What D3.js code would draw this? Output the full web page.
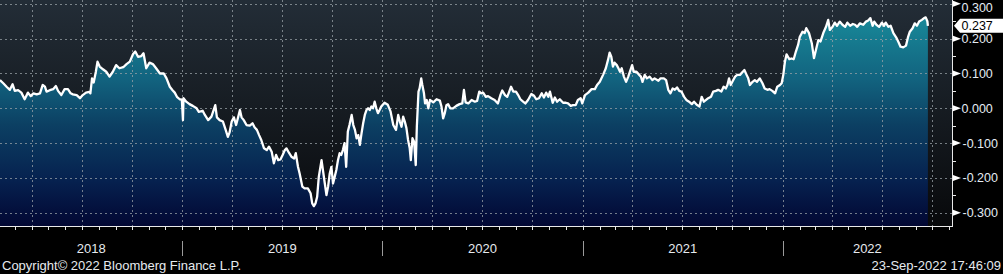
<!DOCTYPE html>
<html>
<head>
<meta charset="utf-8">
<script src="https://d3js.org/d3.v7.min.js"></script>
<style>
  html, body { margin: 0; padding: 0; background: #000; }
  svg { display: block; }
  text { font-family: "Liberation Sans", Arial, sans-serif; }
</style>
</head>
<body>
<script>
// series, one array per year: [date, value]
var d2018 = [
  ["2018-02-02",0.081],["2018-02-08",0.072],["2018-02-14",0.062],["2018-02-20",0.053],["2018-02-25",0.069],
  ["2018-03-01",0.050],["2018-03-07",0.052],["2018-03-13",0.045],["2018-03-19",0.026],["2018-03-25",0.045],
  ["2018-03-30",0.035],["2018-04-04",0.043],["2018-04-10",0.040],["2018-04-16",0.043],["2018-04-21",0.067],
  ["2018-04-25",0.062],["2018-04-28",0.048],["2018-05-04",0.052],["2018-05-10",0.055],["2018-05-15",0.064],
  ["2018-05-19",0.050],["2018-05-25",0.038],["2018-05-31",0.055],["2018-06-06",0.055],["2018-06-11",0.043],
  ["2018-06-15",0.040],["2018-06-22",0.038],["2018-06-28",0.029],["2018-07-03",0.038],["2018-07-09",0.045],
  ["2018-07-15",0.047],["2018-07-17",0.043],["2018-07-20",0.086],["2018-07-23",0.074],["2018-07-27",0.105],
  ["2018-07-30",0.134],["2018-08-03",0.120],["2018-08-09",0.112],["2018-08-15",0.105],["2018-08-21",0.091],
  ["2018-08-27",0.105],["2018-09-02",0.124],["2018-09-08",0.115],["2018-09-15",0.118],["2018-09-21",0.127],
  ["2018-09-27",0.134],["2018-10-03",0.156],["2018-10-07",0.163],["2018-10-12",0.148],["2018-10-18",0.150],
  ["2018-10-22",0.158],["2018-10-27",0.115],["2018-11-02",0.131],["2018-11-08",0.127],["2018-11-14",0.115],
  ["2018-11-21",0.100],["2018-11-28",0.100],["2018-12-03",0.086],["2018-12-09",0.062],["2018-12-14",0.052],
  ["2018-12-18",0.045],["2018-12-22",0.033],["2018-12-27",0.026],["2018-12-31",0.025]
];
var d2019 = [
  ["2019-01-02",-0.034],["2019-01-03",0.029],["2019-01-08",0.019],["2019-01-14",0.012],["2019-01-20",0.007],
  ["2019-01-27",0.000],["2019-01-31",-0.010],["2019-02-07",-0.007],["2019-02-11",-0.019],["2019-02-17",-0.034],
  ["2019-02-23",-0.024],["2019-02-27",-0.005],["2019-03-02",0.009],["2019-03-05",-0.026],["2019-03-10",-0.034],
  ["2019-03-16",-0.038],["2019-03-21",-0.062],["2019-03-25",-0.082],["2019-03-28",-0.070],["2019-04-01",-0.038],
  ["2019-04-05",-0.026],["2019-04-09",-0.048],["2019-04-13",-0.024],["2019-04-16",-0.005],["2019-04-19",-0.026],
  ["2019-04-23",-0.034],["2019-04-28",-0.048],["2019-05-04",-0.050],["2019-05-09",-0.043],["2019-05-13",-0.055],
  ["2019-05-17",-0.062],["2019-05-21",-0.077],["2019-05-25",-0.091],["2019-05-30",-0.115],["2019-06-04",-0.120],
  ["2019-06-08",-0.110],["2019-06-13",-0.125],["2019-06-17",-0.158],["2019-06-21",-0.134],["2019-06-25",-0.149],
  ["2019-06-29",-0.147],["2019-07-03",-0.134],["2019-07-07",-0.120],["2019-07-10",-0.115],["2019-07-15",-0.129],
  ["2019-07-19",-0.139],["2019-07-24",-0.144],["2019-07-27",-0.129],["2019-07-31",-0.168],["2019-08-03",-0.187],
  ["2019-08-08",-0.225],["2019-08-12",-0.230],["2019-08-18",-0.230],["2019-08-23",-0.244],["2019-08-26",-0.273],
  ["2019-08-29",-0.281],["2019-09-01",-0.273],["2019-09-04",-0.254],["2019-09-07",-0.197],["2019-09-12",-0.149],
  ["2019-09-18",-0.216],["2019-09-21",-0.249],["2019-09-24",-0.225],["2019-09-27",-0.187],["2019-09-30",-0.168],
  ["2019-10-03",-0.216],["2019-10-06",-0.197],["2019-10-09",-0.177],["2019-10-12",-0.149],["2019-10-15",-0.129],
  ["2019-10-18",-0.134],["2019-10-21",-0.120],["2019-10-24",-0.100],["2019-10-27",-0.168],["2019-10-30",-0.067],
  ["2019-11-02",-0.048],["2019-11-06",-0.019],["2019-11-09",-0.048],["2019-11-12",-0.062],["2019-11-15",-0.086],
  ["2019-11-18",-0.077],["2019-11-21",-0.105],["2019-11-24",-0.072],["2019-11-27",-0.043],["2019-11-30",-0.019],
  ["2019-12-03",-0.005],["2019-12-06",0.000],["2019-12-09",-0.005],["2019-12-12",0.005],["2019-12-15",0.000],
  ["2019-12-18",0.019],["2019-12-21",0.000],["2019-12-24",-0.014],["2019-12-27",-0.005],["2019-12-30",0.005]
];
var d2020 = [
  ["2020-01-05",0.016],["2020-01-11",0.010],["2020-01-16",-0.009],["2020-01-21",-0.048],["2020-01-26",-0.062],
  ["2020-01-30",-0.019],["2020-02-02",-0.038],["2020-02-05",-0.053],["2020-02-08",-0.024],["2020-02-11",-0.038],
  ["2020-02-14",-0.057],["2020-02-17",-0.091],["2020-02-20",-0.115],["2020-02-22",-0.149],["2020-02-25",-0.086],
  ["2020-02-28",-0.096],["2020-03-02",-0.163],["2020-03-04",-0.053],["2020-03-07",0.048],["2020-03-09",0.057],
  ["2020-03-12",0.086],["2020-03-14",0.067],["2020-03-17",0.043],["2020-03-19",0.014],["2020-03-22",0.024],
  ["2020-03-25",0.000],["2020-03-28",0.024],["2020-04-03",0.017],["2020-04-09",0.026],["2020-04-15",0.022],
  ["2020-04-18",0.005],["2020-04-21",-0.029],["2020-04-24",-0.014],["2020-04-27",0.009],["2020-04-30",0.012],
  ["2020-05-04",0.000],["2020-05-09",0.000],["2020-05-15",0.007],["2020-05-21",0.012],["2020-05-26",0.014],
  ["2020-05-29",0.053],["2020-06-01",0.017],["2020-06-06",0.014],["2020-06-12",0.024],["2020-06-18",0.019],
  ["2020-06-22",0.021],["2020-06-26",0.048],["2020-06-29",0.043],["2020-07-03",0.045],["2020-07-08",0.033],
  ["2020-07-12",0.035],["2020-07-18",0.029],["2020-07-24",0.024],["2020-07-30",0.014],["2020-08-04",0.040],
  ["2020-08-07",0.051],["2020-08-12",0.038],["2020-08-16",0.033],["2020-08-19",0.045],["2020-08-23",0.062],
  ["2020-08-27",0.048],["2020-09-01",0.048],["2020-09-05",0.038],["2020-09-09",0.026],["2020-09-14",0.019],
  ["2020-09-18",0.014],["2020-09-23",0.024],["2020-09-29",0.041],["2020-10-04",0.036],["2020-10-08",0.026],
  ["2020-10-13",0.029],["2020-10-18",0.043],["2020-10-22",0.031],["2020-10-26",0.045],["2020-10-30",0.033],
  ["2020-11-02",0.048],["2020-11-07",0.016],["2020-11-11",0.031],["2020-11-15",0.019],["2020-11-20",0.026],
  ["2020-11-26",0.016],["2020-12-01",0.016],["2020-12-05",0.014],["2020-12-10",0.007],["2020-12-14",0.009],
  ["2020-12-19",0.009],["2020-12-23",0.024],["2020-12-28",0.029],["2020-12-31",0.014]
];
var d2021 = [
  ["2021-01-05",0.038],["2021-01-11",0.045],["2021-01-17",0.055],["2021-01-23",0.055],["2021-01-27",0.067],
  ["2021-02-01",0.076],["2021-02-07",0.096],["2021-02-12",0.115],["2021-02-16",0.139],["2021-02-19",0.160],
  ["2021-02-22",0.148],["2021-02-25",0.120],["2021-02-28",0.131],["2021-03-04",0.124],["2021-03-07",0.115],
  ["2021-03-10",0.105],["2021-03-13",0.115],["2021-03-17",0.091],["2021-03-21",0.076],["2021-03-25",0.091],
  ["2021-03-28",0.105],["2021-04-01",0.124],["2021-04-04",0.105],["2021-04-09",0.105],["2021-04-14",0.096],
  ["2021-04-17",0.091],["2021-04-20",0.076],["2021-04-24",0.096],["2021-04-28",0.086],["2021-05-03",0.091],
  ["2021-05-08",0.081],["2021-05-12",0.086],["2021-05-19",0.079],["2021-05-23",0.086],["2021-05-29",0.086],
  ["2021-06-02",0.081],["2021-06-06",0.053],["2021-06-10",0.043],["2021-06-14",0.057],["2021-06-18",0.053],
  ["2021-06-22",0.060],["2021-06-26",0.050],["2021-06-30",0.048],["2021-07-05",0.033],["2021-07-09",0.024],
  ["2021-07-14",0.019],["2021-07-19",0.012],["2021-07-23",0.019],["2021-07-28",0.010],["2021-08-02",0.005],
  ["2021-08-06",0.033],["2021-08-10",0.019],["2021-08-14",0.024],["2021-08-18",0.029],["2021-08-23",0.033],
  ["2021-08-27",0.048],["2021-09-01",0.050],["2021-09-05",0.053],["2021-09-11",0.048],["2021-09-15",0.062],
  ["2021-09-19",0.057],["2021-09-22",0.067],["2021-09-25",0.086],["2021-09-28",0.067],["2021-10-01",0.076],
  ["2021-10-06",0.091],["2021-10-10",0.096],["2021-10-15",0.096],["2021-10-20",0.105],["2021-10-23",0.110],
  ["2021-10-27",0.096],["2021-10-30",0.086],["2021-11-02",0.067],["2021-11-07",0.076],["2021-11-11",0.081],
  ["2021-11-15",0.076],["2021-11-20",0.086],["2021-11-25",0.072],["2021-11-29",0.057],["2021-12-04",0.053],
  ["2021-12-08",0.055],["2021-12-13",0.050],["2021-12-18",0.043],["2021-12-22",0.062],["2021-12-27",0.067],
  ["2021-12-30",0.072]
];
var d2022 = [
  ["2022-01-02",0.096],["2022-01-05",0.134],["2022-01-08",0.155],["2022-01-13",0.141],["2022-01-17",0.143],
  ["2022-01-21",0.141],["2022-01-25",0.163],["2022-01-29",0.182],["2022-02-01",0.205],["2022-02-06",0.220],
  ["2022-02-10",0.216],["2022-02-13",0.230],["2022-02-18",0.216],["2022-02-23",0.187],["2022-02-27",0.144],
  ["2022-03-03",0.170],["2022-03-07",0.196],["2022-03-11",0.192],["2022-03-16",0.216],["2022-03-21",0.234],
  ["2022-03-25",0.254],["2022-03-28",0.225],["2022-04-02",0.234],["2022-04-06",0.246],["2022-04-10",0.237],
  ["2022-04-15",0.249],["2022-04-20",0.240],["2022-04-25",0.234],["2022-04-29",0.246],["2022-05-04",0.237],
  ["2022-05-09",0.242],["2022-05-13",0.240],["2022-05-17",0.234],["2022-05-22",0.244],["2022-05-28",0.240],
  ["2022-06-02",0.249],["2022-06-06",0.252],["2022-06-10",0.259],["2022-06-14",0.237],["2022-06-17",0.249],
  ["2022-06-21",0.240],["2022-06-26",0.234],["2022-07-01",0.246],["2022-07-05",0.237],["2022-07-08",0.246],
  ["2022-07-13",0.234],["2022-07-17",0.237],["2022-07-22",0.216],["2022-07-27",0.204],["2022-07-31",0.191],
  ["2022-08-04",0.177],["2022-08-09",0.175],["2022-08-14",0.180],["2022-08-18",0.206],["2022-08-21",0.220],
  ["2022-08-26",0.230],["2022-08-30",0.244],["2022-09-03",0.237],["2022-09-07",0.249],["2022-09-12",0.254],
  ["2022-09-16",0.259],["2022-09-19",0.261],["2022-09-22",0.250],["2022-09-23",0.237]
];

var yTicks = [-0.3, -0.2, -0.1, 0, 0.1, 0.2, 0.3];
var yMinor = [-0.25, -0.15, -0.05, 0.05, 0.15, 0.25];
var lastValue = 0.237;
var dateRange = ["2018-02-02", "2022-11-06"];
var valueRange = [-0.338, 0.311];
var copyrightText = "Copyright\u00A9 2022 Bloomberg Finance L.P.";
var stampText = "23-Sep-2022 17:46:09";

//setup sizes
var width = 1003, height = 274;
var plotW = 952, plotH = 226;

var parse = d3.timeParse("%Y-%m-%d");
var data = [].concat(d2018, d2019, d2020, d2021, d2022).map(function(d) {
    return {date: parse(d[0]), value: d[1]};
});

var x = d3.scaleTime().domain(dateRange.map(parse)).range([0, plotW]);
var y = d3.scaleLinear().domain(valueRange).range([plotH, 0]);

var svg = d3.select("body").append("svg")
    .attr("width", width)
    .attr("height", height);

svg.append("rect").attr("width", width).attr("height", height).attr("fill", "#000");

var defs = svg.append("defs");

//plot background gradient
var bg = defs.append("linearGradient").attr("id", "bg")
    .attr("x1", 0).attr("y1", 0).attr("x2", 0).attr("y2", 1);
bg.append("stop").attr("offset", "0%").attr("stop-color", "#232d37");
bg.append("stop").attr("offset", "100%").attr("stop-color", "#08090b");

//area fill gradient
var ag = defs.append("linearGradient").attr("id", "areaFill")
    .attr("gradientUnits", "userSpaceOnUse")
    .attr("x1", 0).attr("y1", 0).attr("x2", 0).attr("y2", plotH);
ag.append("stop").attr("offset", "0%").attr("stop-color", "#1a93a0");
ag.append("stop").attr("offset", "35%").attr("stop-color", "#12637f");
ag.append("stop").attr("offset", "55%").attr("stop-color", "#0c4063");
ag.append("stop").attr("offset", "80%").attr("stop-color", "#06214f");
ag.append("stop").attr("offset", "100%").attr("stop-color", "#020733");

defs.append("clipPath").attr("id", "clip")
    .append("rect").attr("width", plotW).attr("height", plotH);

svg.append("rect")
    .attr("width", plotW).attr("height", plotH)
    .attr("fill", "url(#bg)");

var plot = svg.append("g").attr("clip-path", "url(#clip)");

//area under the line
var area = d3.area()
    .x(function(d) { return x(d.date); })
    .y0(plotH)
    .y1(function(d) { return y(d.value); });

plot.append("path")
    .datum(data)
    .attr("d", area)
    .attr("fill", "url(#areaFill)");

//dotted grid
var grid = plot.append("g")
    .attr("stroke", "#9aa1a7")
    .attr("stroke-opacity", 0.75)
    .attr("stroke-dasharray", "2,3")
    .attr("stroke-width", 1);

grid.selectAll(".hg").data(yTicks).enter().append("line")
    .attr("x1", 0).attr("x2", plotW)
    .attr("y1", function(d) { return Math.round(y(d)) + 0.5; })
    .attr("y2", function(d) { return Math.round(y(d)) + 0.5; });

grid.selectAll(".vg").data(x.ticks(d3.timeMonth.every(3))).enter().append("line")
    .attr("y1", 0).attr("y2", plotH)
    .attr("x1", function(d) { return Math.round(x(d)) + 0.5; })
    .attr("x2", function(d) { return Math.round(x(d)) + 0.5; });

//the line itself
var line = d3.line()
    .x(function(d) { return x(d.date); })
    .y(function(d) { return y(d.value); });

plot.append("path")
    .datum(data)
    .attr("d", line)
    .attr("fill", "none")
    .attr("stroke", "#ffffff")
    .attr("stroke-width", 2.3)
    .attr("stroke-linejoin", "round");

//axis lines
svg.append("line")
    .attr("x1", plotW + 0.5).attr("x2", plotW + 0.5)
    .attr("y1", 0).attr("y2", plotH + 1)
    .attr("stroke", "#e8e8e8");
svg.append("line")
    .attr("x1", 0).attr("x2", plotW + 1)
    .attr("y1", plotH + 0.5).attr("y2", plotH + 0.5)
    .attr("stroke", "#e8e8e8");

//monthly ticks below the plot
svg.selectAll(".mt").data(x.ticks(d3.timeMonth)).enter().append("line")
    .attr("x1", function(d) { return Math.round(x(d)) + 0.5; })
    .attr("x2", function(d) { return Math.round(x(d)) + 0.5; })
    .attr("y1", plotH).attr("y2", plotH + 4)
    .attr("stroke", "#e8e8e8");

//right axis: arrows, minor ticks, labels
var fmt = d3.format(".3f");
svg.selectAll(".arrow").data(yTicks).enter().append("path")
    .attr("d", function(d) {
        var yy = y(d);
        return "M" + (plotW + 1) + "," + (yy - 3) + "L" + (plotW + 9) + "," + yy + "L" + (plotW + 1) + "," + (yy + 3) + "Z";
    })
    .attr("fill", "#ffffff");

svg.selectAll(".minor").data(yMinor).enter().append("line")
    .attr("x1", plotW).attr("x2", plotW + 4)
    .attr("y1", function(d) { return Math.round(y(d)) + 0.5; })
    .attr("y2", function(d) { return Math.round(y(d)) + 0.5; })
    .attr("stroke", "#e8e8e8");

svg.selectAll(".ylab").data(yTicks).enter().append("text")
    .attr("x", function(d) { return d < 0 ? plotW + 10.5 : plotW + 9.5; })
    .attr("y", function(d) { return Math.max(7.5, y(d)); })
    .attr("dy", "0.36em")
    .attr("fill", "#e4ecf4")
    .style("font-size", "12.5px")
    .text(function(d) { return d < 0 ? "-" + fmt(-d) : fmt(d); });

//last value tag
var ly = y(lastValue);
svg.append("path")
    .attr("d", "M" + (plotW + 2) + "," + ly + "L" + (plotW + 8) + "," + (ly - 7) + "L" + width + "," + (ly - 7) +
        "L" + width + "," + (ly + 7) + "L" + (plotW + 8) + "," + (ly + 7) + "Z")
    .attr("fill", "#ffffff");
svg.append("text")
    .attr("x", plotW + 9.5)
    .attr("y", ly)
    .attr("dy", "0.36em")
    .attr("fill", "#000")
    .style("font-size", "12.5px")
    .text(fmt(lastValue));

//year separators and labels
var x0 = x.domain()[0], x1 = x.domain()[1];
var years = d3.timeYear.range(d3.timeYear.floor(x0), x1);
var yearStarts = d3.timeYear.range(d3.timeYear.ceil(x0), x1);

svg.selectAll(".ysep").data(yearStarts).enter().append("line")
    .attr("x1", function(d) { return Math.round(x(d)) + 0.5; })
    .attr("x2", function(d) { return Math.round(x(d)) + 0.5; })
    .attr("y1", 241).attr("y2", 256)
    .attr("stroke", "#9a9a9a");

svg.selectAll(".ylabel").data(years).enter().append("text")
    .attr("x", function(d) {
        var a = Math.max(0, x(d)), b = Math.min(plotW, x(d3.timeYear.offset(d, 1)));
        return (a + b) / 2;
    })
    .attr("y", 253)
    .attr("text-anchor", "middle")
    .attr("fill", "#e6eaee")
    .style("font-size", "13px")
    .text(function(d) { return d.getFullYear(); });

//footer
svg.append("text")
    .attr("x", 2).attr("y", 269.5)
    .attr("fill", "#e6eaee")
    .style("font-size", "13px")
    .text(copyrightText);
svg.append("text")
    .attr("x", width - 2).attr("y", 269.5)
    .attr("text-anchor", "end")
    .attr("fill", "#e6eaee")
    .style("font-size", "13px")
    .text(stampText);
</script>
</body>
</html>
